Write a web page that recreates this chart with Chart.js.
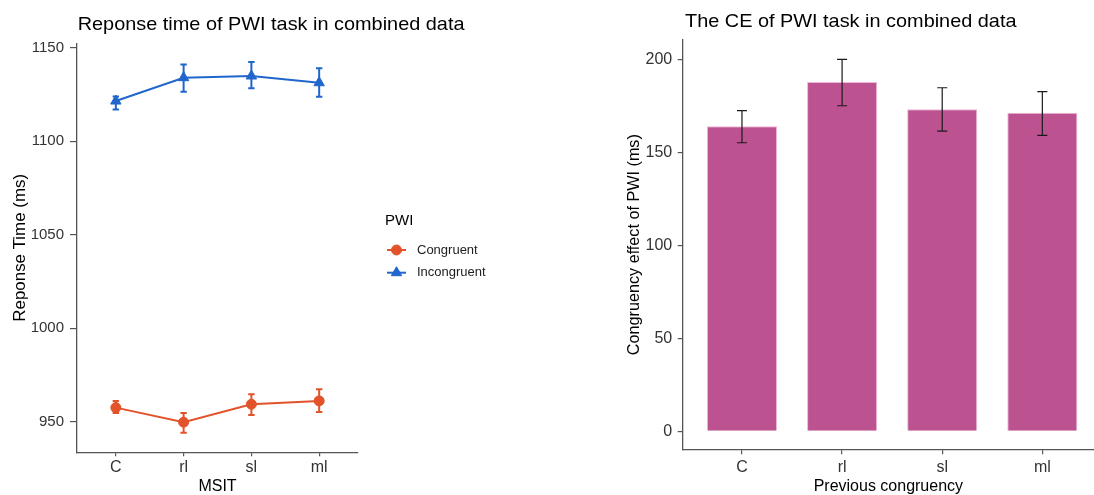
<!DOCTYPE html>
<html>
<head>
<meta charset="utf-8">
<script src="https://cdn.jsdelivr.net/npm/chart.js@4/dist/chart.umd.min.js"></script>
<style>
  html, body { margin: 0; padding: 0; background: #fff; }
  body { width: 1094px; height: 495px; position: relative; overflow: hidden; }
  .panel { position: absolute; top: 0; height: 495px; }
  #leftBox { left: 0; width: 560px; }
  #rightBox { left: 547px; width: 547px; }
</style>
</head>
<body>
<div class="panel" id="leftBox"><canvas id="rtChart"></canvas></div>
<div class="panel" id="rightBox"><canvas id="ceChart"></canvas></div>
<script>
// data
const msitCats = ["C", "rl", "sl", "ml"];
const congMean = [957.5, 949.7, 959.3, 961.1];
const congLo = [954.6, 944.1, 953.6, 955.2];
const congHi = [961.0, 954.6, 964.6, 967.3];
const incongMean = [1121.5, 1134.0, 1134.9, 1131.3];
const incongLo = [1117.0, 1126.5, 1128.3, 1123.8];
const incongHi = [1124.0, 1141.1, 1142.4, 1139.0];

const prevCats = ["C", "rl", "sl", "ml"];
const ceMean = [164.2, 188.0, 173.3, 171.5];
const ceLo = [155.3, 175.2, 161.6, 159.3];
const ceHi = [172.6, 200.2, 184.9, 182.8];

const FONT = "'Liberation Sans', Arial, sans-serif";
const ORANGE = "#E2532B";
const BLUE = "#2166CC";
const AXIS = "#555";
const TICK_TXT = "#333";

const errorBars = {
  id: "errorBars",
  afterDatasetsDraw(chart, args, opts) {
    const { ctx } = chart;
    const x = chart.scales.x, y = chart.scales.y;
    (opts.sets || []).forEach(set => {
      ctx.save();
      ctx.strokeStyle = set.color;
      ctx.lineWidth = set.width;
      set.lo.forEach((lo, i) => {
        const px = x.getPixelForValue(i);
        const pLo = y.getPixelForValue(lo);
        const pHi = y.getPixelForValue(set.hi[i]);
        ctx.beginPath();
        ctx.moveTo(px, pLo); ctx.lineTo(px, pHi);
        ctx.moveTo(px - set.cap, pLo); ctx.lineTo(px + set.cap, pLo);
        ctx.moveTo(px - set.cap, pHi); ctx.lineTo(px + set.cap, pHi);
        ctx.stroke();
      });
      ctx.restore();
    });
  }
};

// panel title, left-aligned on the plot area, slightly widened like the reference
const panelTitle = {
  id: "panelTitle",
  afterDraw(chart, args, o) {
    const ctx = chart.ctx;
    ctx.save();
    ctx.fillStyle = "#000";
    ctx.font = `${o.size}px ${FONT}`;
    ctx.textBaseline = "middle";
    ctx.textAlign = "left";
    ctx.translate(chart.chartArea.left + o.dx, o.y);
    ctx.scale(o.stretch, 1);
    ctx.fillText(o.text, 0, 0);
    ctx.restore();
  }
};

function marker(ctx, style, r, x, y) {
  if (Chart.helpers && Chart.helpers.drawPoint) {
    Chart.helpers.drawPoint(ctx, { pointStyle: style, radius: r, borderWidth: 1, rotation: 0 }, x, y);
    return;
  }
  ctx.beginPath();
  if (style === "triangle") {
    ctx.moveTo(x, y - r);
    ctx.lineTo(x + r * 0.866, y + r / 2);
    ctx.lineTo(x - r * 0.866, y + r / 2);
    ctx.closePath();
  } else {
    ctx.arc(x, y, r, 0, Math.PI * 2);
  }
  ctx.fill();
  ctx.stroke();
}

const sideLegend = {
  id: "sideLegend",
  afterDraw(chart, args, o) {
    const ctx = chart.ctx;
    ctx.save();
    ctx.textBaseline = "middle";
    ctx.textAlign = "left";
    ctx.fillStyle = "#000";
    ctx.font = `15px ${FONT}`;
    ctx.fillText(o.title, o.x, o.titleY);
    chart.data.datasets.forEach((ds, i) => {
      const cy = o.firstY + i * o.gap;
      ctx.strokeStyle = ds.borderColor;
      ctx.fillStyle = ds.borderColor;
      ctx.lineWidth = 2;
      ctx.beginPath();
      ctx.moveTo(o.x + 2, cy);
      ctx.lineTo(o.x + 21, cy);
      ctx.stroke();
      ctx.lineWidth = 1;
      marker(ctx, ds.pointStyle, ds.pointRadius, o.x + 11.5, cy);
      ctx.fillStyle = "#222";
      ctx.font = `13px ${FONT}`;
      ctx.fillText(ds.label, o.x + 32, cy);
    });
    ctx.restore();
  }
};

function axisX(cats, min, max, tickLen, pad, height, title) {
  return {
    type: "linear", min, max, offset: false,
    ticks: { stepSize: 1, includeBounds: false, autoSkip: false, maxRotation: 0, padding: pad,
      color: TICK_TXT, font: { family: FONT, size: 16 },
      callback: v => (cats[v] !== undefined ? cats[v] : "") },
    grid: { drawOnChartArea: false, offset: false, tickLength: tickLen, color: AXIS, lineWidth: 1.2 },
    border: { display: true, color: AXIS, width: 1.3 },
    title: { display: true, text: title, color: "#000", padding: 0,
      font: { family: FONT, size: 16, lineHeight: 1 } },
    afterFit: s => { s.height = height; }
  };
}

function axisY(min, max, tickLen, pad, tickSize, width, title, titleSize, titlePad) {
  return {
    min, max,
    ticks: { stepSize: 50, includeBounds: false, padding: pad, color: TICK_TXT,
      font: { family: FONT, size: tickSize }, callback: v => String(v) },
    grid: { drawOnChartArea: false, tickLength: tickLen, color: AXIS, lineWidth: 1.2 },
    border: { display: true, color: AXIS, width: 1.3 },
    title: { display: true, text: title, color: "#000", padding: { top: titlePad, bottom: 0 },
      font: { family: FONT, size: titleSize } },
    afterFit: s => { s.width = width; }
  };
}

new Chart(document.getElementById("rtChart"), {
  type: "line",
  data: {
    datasets: [
      { label: "Congruent", data: congMean.map((v, i) => ({ x: i, y: v })),
        borderColor: ORANGE, backgroundColor: ORANGE, borderWidth: 2,
        pointStyle: "circle", pointRadius: 5, pointBorderWidth: 1, tension: 0 },
      { label: "Incongruent", data: incongMean.map((v, i) => ({ x: i, y: v })),
        borderColor: BLUE, backgroundColor: BLUE, borderWidth: 2,
        pointStyle: "triangle", pointRadius: 6, pointBorderWidth: 1, tension: 0 }
    ]
  },
  options: {
    responsive: true,
    maintainAspectRatio: false,
    animation: false,
    layout: { padding: { top: 43.3, right: 202, left: 0, bottom: 0 } },
    plugins: {
      legend: { display: false },
      tooltip: { enabled: false },
      panelTitle: { text: "Reponse time of PWI task in combined data", size: 17.7, stretch: 1.124, y: 25.3, dx: 0.7 },
      sideLegend: { title: "PWI", x: 385, titleY: 221, firstY: 250, gap: 22.7 },
      errorBars: { sets: [
        { lo: congLo, hi: congHi, color: ORANGE, width: 2, cap: 3.2 },
        { lo: incongLo, hi: incongHi, color: BLUE, width: 2, cap: 3.2 }
      ] }
    },
    scales: {
      x: axisX(msitCats, -0.573, 3.573, 4, 2, 42.7, "MSIT"),
      y: axisY(933.6, 1152.4, 7, 6, 15, 77, "Reponse Time (ms)", 16.9, 9.9)
    }
  },
  plugins: [errorBars, panelTitle, sideLegend]
});

new Chart(document.getElementById("ceChart"), {
  type: "bar",
  data: {
    datasets: [
      { label: "CE", data: ceMean.map((v, i) => ({ x: i, y: v })),
        backgroundColor: "#BD5290", borderColor: "#EFB5D6", borderWidth: 1,
        barPercentage: 0.7, categoryPercentage: 1 }
    ]
  },
  options: {
    responsive: true,
    maintainAspectRatio: false,
    animation: false,
    layout: { padding: { top: 40, right: 0, left: 0, bottom: 0 } },
    plugins: {
      legend: { display: false },
      tooltip: { enabled: false },
      panelTitle: { text: "The CE of PWI task in combined data", size: 17.7, stretch: 1.124, y: 21.7, dx: 2.3 },
      errorBars: { sets: [
        { lo: ceLo, hi: ceHi, color: "#1a1a1a", width: 1.2, cap: 5 }
      ] }
    },
    scales: {
      x: axisX(prevCats, -0.592, 3.516, 5, 4, 45.7, "Previous congruency"),
      y: axisY(-9.7, 210.6, 5, 5.5, 16, 135.7, "Congruency effect of PWI (ms)", 16.2, 78.3)
    }
  },
  plugins: [errorBars, panelTitle]
});
</script>
</body>
</html>
